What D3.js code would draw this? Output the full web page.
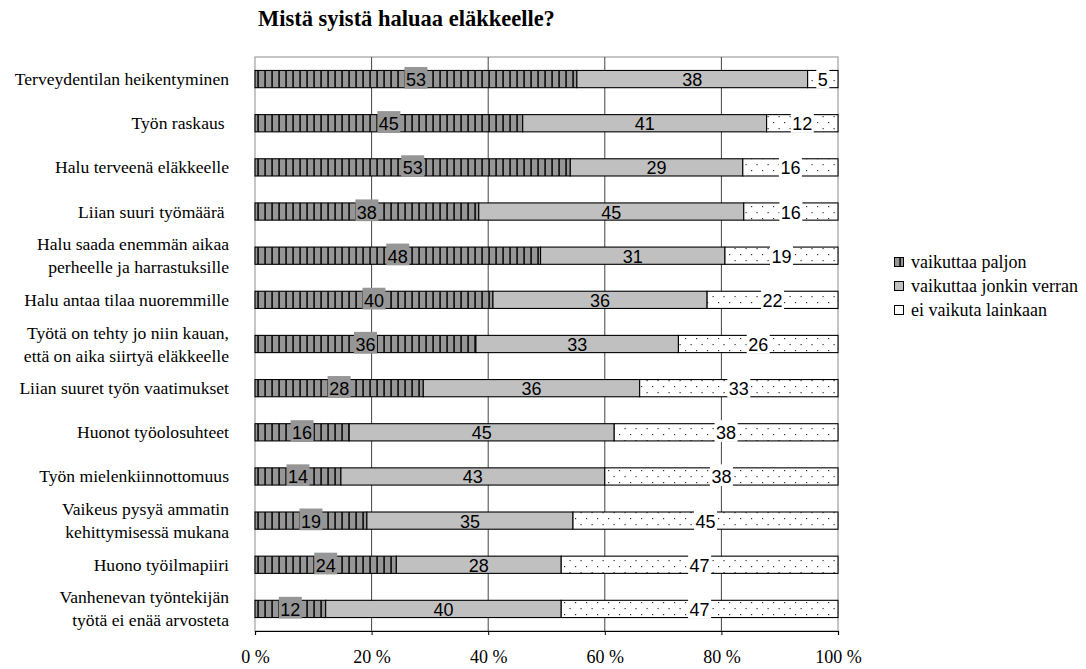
<!DOCTYPE html>
<html>
<head>
<meta charset="utf-8">
<script src="https://cdn.jsdelivr.net/npm/d3@7"></script>
<style>
  html, body { margin: 0; padding: 0; background: #fff; }
  svg { display: block; }
  .serif { font-family: "Liberation Serif", "Times New Roman", serif; }
  .sans { font-family: "Liberation Sans", Arial, sans-serif; }
</style>
</head>
<body>
<svg id="chart" width="1086" height="669"></svg>
<script>
// Reasons for wanting to retire: share of respondents per answer
const categories = [
  ["Terveydentilan heikentyminen"],
  ["Työn raskaus "],
  ["Halu terveenä eläkkeelle"],
  ["Liian suuri työmäärä "],
  ["Halu saada enemmän aikaa", "perheelle ja harrastuksille"],
  ["Halu antaa tilaa nuoremmille"],
  ["Työtä on tehty jo niin kauan,", "että on aika siirtyä eläkkeelle"],
  ["Liian suuret työn vaatimukset"],
  ["Huonot työolosuhteet"],
  ["Työn mielenkiinnottomuus"],
  ["Vaikeus pysyä ammatin", "kehittymisessä mukana"],
  ["Huono työilmapiiri"],
  ["Vanhenevan työntekijän", "työtä ei enää arvosteta"]
];
const paljon = [53, 45, 53, 38, 48, 40, 36, 28, 16, 14, 19, 24, 12];
const jonkin = [38, 41, 29, 45, 31, 36, 33, 36, 45, 43, 35, 28, 40];
const eiLainkaan = [5, 12, 16, 16, 19, 22, 26, 33, 38, 38, 45, 47, 47];
const seriesNames = ["vaikuttaa paljon", "vaikuttaa jonkin verran", "ei vaikuta lainkaan"];
const tickValues = [0, 0.2, 0.4, 0.6, 0.8, 1.0];
const tickLabels = ["0 %", "20 %", "40 %", "60 %", "80 %", "100 %"];
const title = "Mistä syistä haluaa eläkkeelle?";

const svg = d3.select("#chart");

const plot = { left: 255, right: 838, top: 57, bottom: 631 };

// Fill patterns
const defs = svg.append("defs");
const stripe = defs.append("pattern")
  .attr("id", "stripes").attr("patternUnits", "userSpaceOnUse")
  .attr("width", 7).attr("height", 10);
stripe.append("rect").attr("width", 7).attr("height", 10).attr("fill", "#969696");
stripe.append("rect").attr("x", 5.2).attr("width", 1.8).attr("height", 10).attr("fill", "#1a1a1a");

const dots = defs.append("pattern")
  .attr("id", "dots").attr("patternUnits", "userSpaceOnUse")
  .attr("width", 11).attr("height", 12);
dots.append("rect").attr("width", 11).attr("height", 12).attr("fill", "#fff");
dots.append("rect").attr("x", 3).attr("y", 2).attr("width", 1.2).attr("height", 1.2).attr("fill", "#333");
dots.append("rect").attr("x", 8.5).attr("y", 8).attr("width", 1.2).attr("height", 1.2).attr("fill", "#333");

const fills = ["url(#stripes)", "#c0c0c0", "url(#dots)"];

// Scales
const x = d3.scaleLinear().domain([0, 1]).range([plot.left, plot.right]);
const y = d3.scaleBand().domain(d3.range(categories.length))
  .range([plot.top, plot.bottom]).paddingInner(0.61).paddingOuter(0.305);

// Stacked, normalised to each row's total
const rows = categories.map((c, i) => ({ i, vals: [paljon[i], jonkin[i], eiLainkaan[i]] }));
const stack = d3.stack().keys([0, 1, 2]).value((d, k) => d.vals[k]).offset(d3.stackOffsetExpand);
const stacked = stack(rows);

// Plot frame and gridlines
svg.append("rect")
  .attr("x", plot.left).attr("y", plot.top)
  .attr("width", plot.right - plot.left).attr("height", plot.bottom - plot.top)
  .attr("fill", "none").attr("stroke", "#a0a0a0").attr("stroke-width", 1.2);

svg.append("g").selectAll("line")
  .data(tickValues.slice(1, -1))
  .join("line")
  .attr("x1", d => x(d)).attr("x2", d => x(d))
  .attr("y1", plot.top).attr("y2", plot.bottom)
  .attr("stroke", "#444").attr("stroke-width", 1);

// Bars
stacked.forEach((layer, k) => {
  svg.append("g").selectAll("rect")
    .data(layer)
    .join("rect")
    .attr("x", d => x(d[0]))
    .attr("y", (d, i) => y(i))
    .attr("width", d => x(d[1]) - x(d[0]))
    .attr("height", y.bandwidth())
    .attr("fill", fills[k])
    .attr("stroke", "#000").attr("stroke-width", 1.1);
});

// Value labels
const labelBg = ["#969696", null, "#fff"];
stacked.forEach((layer, k) => {
  const g = svg.append("g").attr("class", "sans");
  layer.forEach((d, i) => {
    const cx = x((d[0] + d[1]) / 2);
    const top = y(i);
    const cy = top + y.bandwidth() / 2;
    const txt = String(d.data.vals[k]);
    const w = txt.length * 10 + 3;
    if (labelBg[k]) {
      g.append("rect")
        .attr("x", cx - w / 2).attr("y", top - 3.5)
        .attr("width", w).attr("height", y.bandwidth() + 4.5)
        .attr("fill", labelBg[k]);
    }
    g.append("text")
      .attr("x", cx).attr("y", cy + 7)
      .attr("text-anchor", "middle")
      .style("font-size", "18px")
      .attr("fill", "#000")
      .text(txt);
  });
});

// X axis
const xAxis = d3.axisBottom(x).tickValues(tickValues)
  .tickFormat((d, i) => tickLabels[i]).tickSize(4).tickPadding(15);
const ax = svg.append("g").attr("transform", `translate(0,${plot.bottom})`).call(xAxis);
ax.attr("font-family", null).attr("font-size", null).attr("class", "serif");
ax.select(".domain").attr("stroke", "#000").attr("stroke-width", 1.2);
ax.selectAll(".tick line").attr("stroke", "#000");
ax.selectAll("text").style("font-size", "18px").attr("fill", "#000");

// Category labels
const cat = svg.append("g").attr("class", "serif");
categories.forEach((lines, i) => {
  const cy = y(i) + y.bandwidth() / 2;
  const t = cat.append("text")
    .attr("text-anchor", "end")
    .style("font-size", "17.6px")
    .style("white-space", "pre")
    .attr("fill", "#000");
  const lh = 23;
  const y0 = cy + 6 - (lines.length - 1) * lh / 2;
  lines.forEach((ln, j) => {
    t.append("tspan").attr("x", 229).attr("y", y0 + j * lh).text(ln);
  });
});

// Title
svg.append("text")
  .attr("class", "serif")
  .attr("x", 258).attr("y", 26)
  .style("font-size", "22.5px").style("font-weight", "bold")
  .text(title);

// Legend
const legend = svg.append("g").attr("class", "serif").attr("transform", "translate(894,257)");
seriesNames.forEach((name, k) => {
  const row = legend.append("g").attr("transform", `translate(0,${k * 24})`);
  row.append("rect").attr("x", 0.5).attr("y", 0.5).attr("width", 9).attr("height", 9)
    .attr("fill", k === 2 ? "#fff" : fills[k]).attr("stroke", "#000").attr("stroke-width", 1);
  row.append("text").attr("x", 17).attr("y", 10.5)
    .style("font-size", "18px").attr("fill", "#000")
    .text(name);
});
</script>
</body>
</html>
